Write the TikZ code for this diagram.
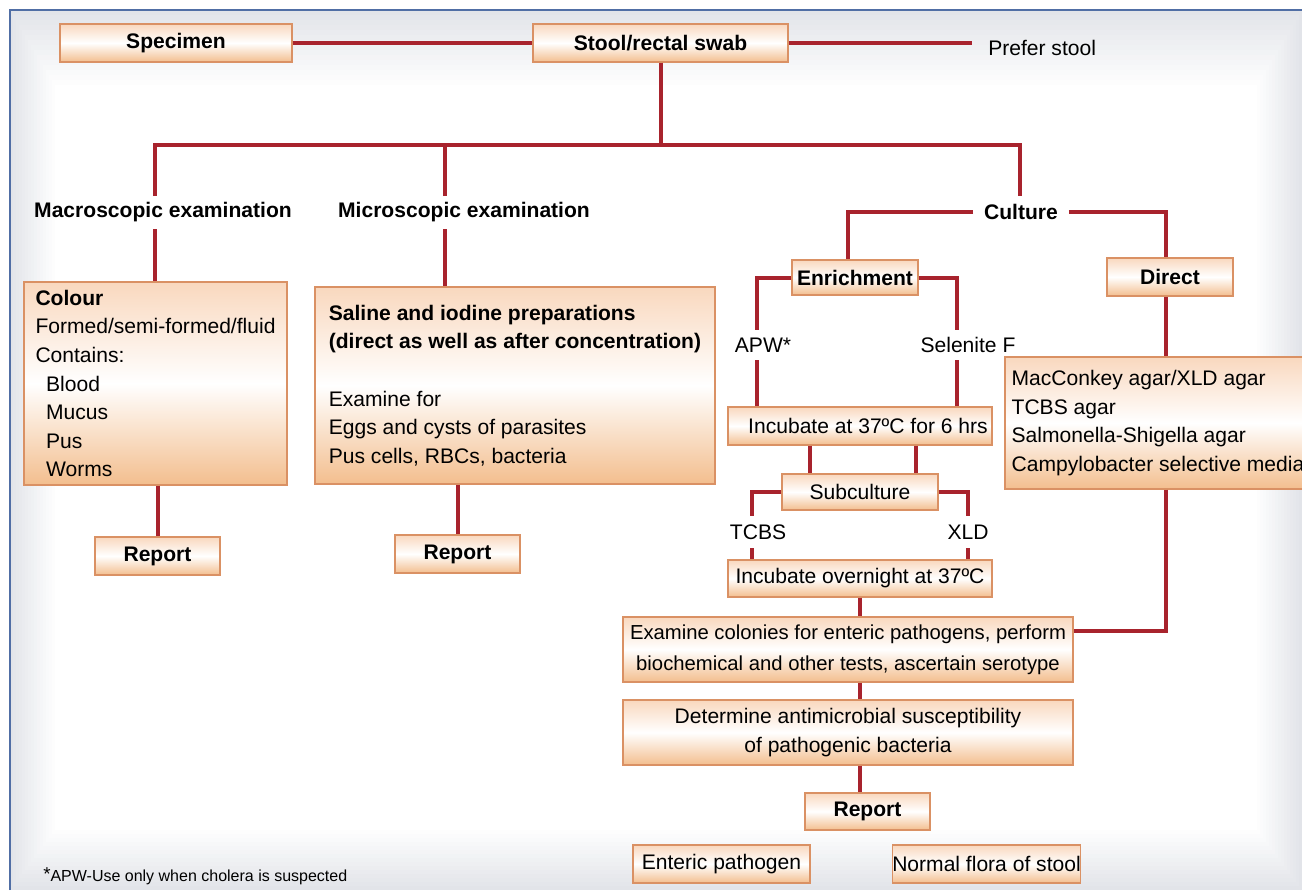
\documentclass[tikz,border=0pt]{standalone}
\usepackage{fontspec}
\setmainfont{Liberation Sans}
\definecolor{lnred}{RGB}{168,35,45}
\definecolor{bxborder}{RGB}{218,145,100}
\definecolor{bxtop}{RGB}{249,216,190}
\definecolor{bxbot}{RGB}{243,190,142}
\definecolor{frameblue}{RGB}{80,110,165}
\definecolor{bggray}{RGB}{226,228,233}
\tikzset{
  ln/.style={draw=lnred,line width=3pt},
  bx/.style={draw=bxborder,line width=0.9pt,top color=bxtop,bottom color=bxbot,middle color=white,inner sep=0pt,
    font=\fontsize{15.8}{21.4}\selectfont},
  lbl/.style={inner sep=0pt,font=\fontsize{15.8}{21.4}\selectfont},
  bl/.style={font=\fontsize{15.8}{21.4}\selectfont\bfseries}
}
\begin{document}
\begin{tikzpicture}[x=0.75pt,y=-0.75pt]
\useasboundingbox (0,0) rectangle (1302,890);
\clip (0,0) rectangle (1302,890);
% background
\fill[white] (0,0) rectangle (1302,890);
\foreach \i in {0,...,15}{
  \pgfmathsetmacro\pcv{100-\i*100/15}
  \fill[bggray!\pcv!white] ({10+3*\i},{10+5*\i}) rectangle ({1302-3*\i},{890-4*\i});
}
\draw[frameblue,line width=1.5pt] (10,890) -- (10,10) -- (1302,10);
% nodes
\node[bx,minimum width=174pt,minimum height=28.5pt,bl] (spec) at (176,43) {Specimen};
\node[bx,minimum width=191.25pt,minimum height=28.5pt,bl] (stool) at (660.5,43) {Stool/rectal swab};
\node[lbl,anchor=west] (prefer) at (988,48) {Prefer stool};
\node[bl,inner sep=0pt] (macro) at (163,212) {Macroscopic examination};
\node[bl,inner sep=0pt] (micro) at (464,212) {Microscopic examination};
\node[bl,inner xsep=8pt,inner ysep=0pt] (cult) at (1021,212) {Culture};
\node[bx,minimum width=197.25pt,minimum height=152.25pt,align=left] (colour) at (155.5,383.5) {\textbf{Colour}\\Formed/semi-formed/fluid\\Contains:\\\hspace*{8pt}Blood\\\hspace*{8pt}Mucus\\\hspace*{8pt}Pus\\\hspace*{8pt}Worms};
\node[bx,minimum width=93.75pt,minimum height=28.5pt,bl] (rep1) at (157.5,556) {Report};
\node[bx,minimum width=300pt,minimum height=147.75pt,align=left] (saline) at (515,385.5) {\textbf{Saline and iodine preparations}\\\textbf{(direct as well as after concentration)}\\[21.5pt]Examine for\\Eggs and cysts of parasites\\Pus cells, RBCs, bacteria};
\node[bx,minimum width=93.75pt,minimum height=28.5pt,bl] (rep2) at (457.5,554) {Report};
\node[bx,minimum width=94.5pt,minimum height=26.25pt,bl] (enrich) at (855,277.5) {Enrichment};
\node[bx,minimum width=94.5pt,minimum height=28.5pt,bl] (direct) at (1170,277) {Direct};
\node[lbl] (apw) at (763,345) {APW*};
\node[lbl] (selen) at (968,345) {Selenite F};
\node[bx,minimum width=198pt,minimum height=28.5pt] (inc6) at (860,426) {\hspace*{12pt}Incubate at 37ºC for 6 hrs};
\node[bx,minimum width=117pt,minimum height=27pt] (sub) at (860,492) {Subculture};
\node[lbl] (tcbs) at (758,532) {TCBS};
\node[lbl] (xld) at (968,532) {XLD};
\node[bx,minimum width=198pt,minimum height=27.75pt] (incon) at (860,578.5) {Incubate overnight at 37ºC};
\node[bx,minimum width=229.5pt,minimum height=99pt,align=left] (media) at (1158,423) {MacConkey agar/XLD agar\\TCBS agar\\Salmonella-Shigella agar\\Campylobacter selective media};
\node[bx,minimum width=337.5pt,minimum height=48.75pt,align=center,font=\fontsize{15.2}{23}\selectfont] (exam) at (848,649.5) {Examine colonies for enteric pathogens, perform\\biochemical and other tests, ascertain serotype};
\node[bx,minimum width=337.5pt,minimum height=48.75pt,align=center,font=\fontsize{15.8}{21.5}\selectfont] (det) at (848,732.5) {Determine antimicrobial susceptibility\\of pathogenic bacteria};
\node[bx,minimum width=93.75pt,minimum height=27.75pt,bl] (rep3) at (867.5,811.5) {Report};
\node[bx,minimum width=132.75pt,minimum height=28.5pt] (ent) at (721.5,864) {Enteric pathogen};
\node[bx,minimum width=129.75pt,minimum height=28.5pt] (norm) at (986.5,864) {Normal flora of stool};
\node[inner sep=0pt,anchor=west,font=\fontsize{12}{14}\selectfont] (foot) at (43,876) {\raisebox{1pt}{\fontsize{14}{14}\selectfont*}APW-Use only when cholera is suspected};
% coordinates
\coordinate (ps) at (972,43);
\coordinate (hy) at (0,145);
\coordinate (mac1) at (155,196);
\coordinate (mic1) at (445,196);
\coordinate (cul1) at (1020,196);
\coordinate (mac2) at (155,229);
\coordinate (mic2) at (445,229);
\coordinate (en1) at (848,0);
\coordinate (dir1) at (1166,0);
\coordinate (a1) at (757,330);
\coordinate (s1) at (957,330);
\coordinate (a2) at (757,360);
\coordinate (s2) at (957,360);
\coordinate (i1) at (810,0);
\coordinate (i2) at (916,0);
\coordinate (t1) at (752,516);
\coordinate (x1) at (968,516);
\coordinate (t2) at (752,548);
\coordinate (x2) at (968,548);
\coordinate (cx) at (860,0);
\coordinate (ey) at (0,631);
% connectors
\draw[ln] (spec.east) -- (stool.west);
\draw[ln] (stool.east) -- (ps);
\draw[ln] (stool.south) -- (stool.south |- hy);
\draw[ln] (mac1) |- (hy -| cul1) -- (cul1);
\draw[ln] (mic1) -- (mic1 |- hy);
\draw[ln] (mac2) -- (mac2 |- colour.north);
\draw[ln] (mic2) -- (mic2 |- saline.north);
\draw[ln] (colour.south -| rep1.north) -- (rep1.north);
\draw[ln] (saline.south -| rep2.north) -- (rep2.north);
\draw[ln] (cult.west) -| (en1 |- enrich.north);
\draw[ln] (cult.east) -| (dir1 |- direct.north);
\draw[ln] (enrich.west) -| (a1);
\draw[ln] (enrich.east) -| (s1);
\draw[ln] (a2) -- (a2 |- inc6.north);
\draw[ln] (s2) -- (s2 |- inc6.north);
\draw[ln] (i1 |- inc6.south) -- (i1 |- sub.north);
\draw[ln] (i2 |- inc6.south) -- (i2 |- sub.north);
\draw[ln] (sub.west) -| (t1);
\draw[ln] (sub.east) -| (x1);
\draw[ln] (t2) -- (t2 |- incon.north);
\draw[ln] (x2) -- (x2 |- incon.north);
\draw[ln] (cx |- incon.south) -- (cx |- exam.north);
\draw[ln] (cx |- exam.south) -- (cx |- det.north);
\draw[ln] (cx |- det.south) -- (cx |- rep3.north);
\draw[ln] (dir1 |- direct.south) -- (dir1 |- media.north);
\draw[ln] (dir1 |- media.south) |- (exam.east |- ey);
\end{tikzpicture}
\end{document}
